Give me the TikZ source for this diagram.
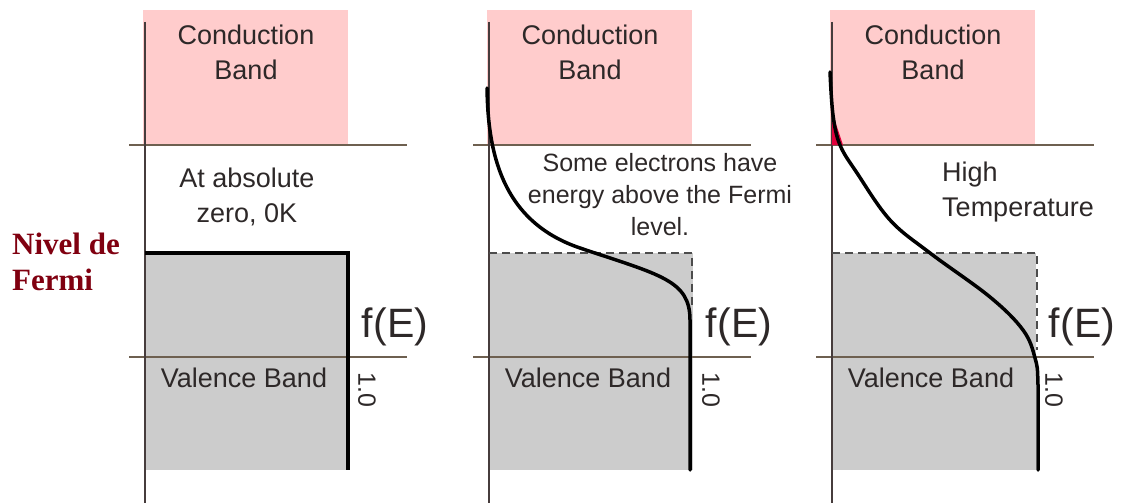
\documentclass[tikz,border=0pt]{standalone}
\usepackage{fontspec}
\setmainfont{Liberation Sans}
\newfontfamily\fermifont{Liberation Serif}
\definecolor{bandpink}{RGB}{255,204,204}
\definecolor{bandgray}{RGB}{204,204,204}
\definecolor{levelline}{RGB}{110,96,80}
\definecolor{axisline}{RGB}{70,60,60}
\definecolor{labeltext}{RGB}{45,40,40}
\definecolor{fermired}{RGB}{128,0,16}
\definecolor{tailred}{RGB}{225,0,60}
\begin{document}
\begin{tikzpicture}[x=1pt,y=-1pt,
	band/.style={font=\fontsize{27}{35}\selectfont,text=labeltext,align=center,inner sep=0pt},
	fofe/.style={font=\fontsize{41}{44}\selectfont,text=labeltext,inner sep=0pt},
	curve/.style={line width=3.5pt,line cap=round},
	fermiline/.style={dash pattern=on 8pt off 5pt,line width=1.8pt,black!70}]
		\useasboundingbox (0,0) rectangle (1127,503);
		\foreach \o [count=\i] in {145,489,832} {
			\fill[bandpink] (\o-2,10) rectangle (\o+203,145);
			\fill[bandgray] (\o,253) rectangle (\o+204,470);
			\draw[levelline,line width=2.5pt] (\o-16,145) -- (\o+262,145);
			\draw[levelline,line width=2.5pt] (\o-16,357) -- (\o+262,357);
			\draw[axisline,line width=2pt] (\o,22) -- (\o,503);
			\node[band] (cb\i) at (\o+101,52) {Conduction\\Band};
			\node[band] (vb\i) at (\o+99,378) {Valence Band};
			\node[fofe] (fe\i) at (\o+250,327) {f(E)};
			\node[band,font=\fontsize{25}{30}\selectfont,rotate=-90] (one\i) at (\o+222,390) {1.0};
		}
		\draw[line width=4pt] (145,253) -- (348,253) -- (348,470);
		\node[band] (zero) at (247,197) {At absolute\\zero, 0K};
		\draw[fermiline] (489,253) -- (692,253) -- (692,305);
		\draw[curve] (487,88) .. controls (488,150) and (500,221) .. (580,248)
			.. controls (660,275) and (690,280) .. (690,320) -- (690,470);
		\node[band,font=\fontsize{25}{32}\selectfont] (some) at (660,195) {Some electrons have\\energy above the Fermi\\level.};
		\draw[fermiline] (832,253) -- (1037,253) -- (1037,350);
		\fill[tailred] (832,112) -- (843,145) -- (832,145) -- cycle;
		\draw[curve] plot[smooth,tension=0.6] coordinates {(830,72) (833,115) (840,145) (857,173) (890,220) (930,253) (990,297) (1023,330) (1035,358) (1038,385) (1038,470)};
		\node[band,align=left,anchor=west] (high) at (942,192) {High\\Temperature};
		\node[font=\fermifont\bfseries\fontsize{31}{36}\selectfont,text=fermired,align=left,anchor=west,inner sep=0pt] (fermi) at (12,262) {Nivel de\\Fermi};
\end{tikzpicture}
\end{document}
